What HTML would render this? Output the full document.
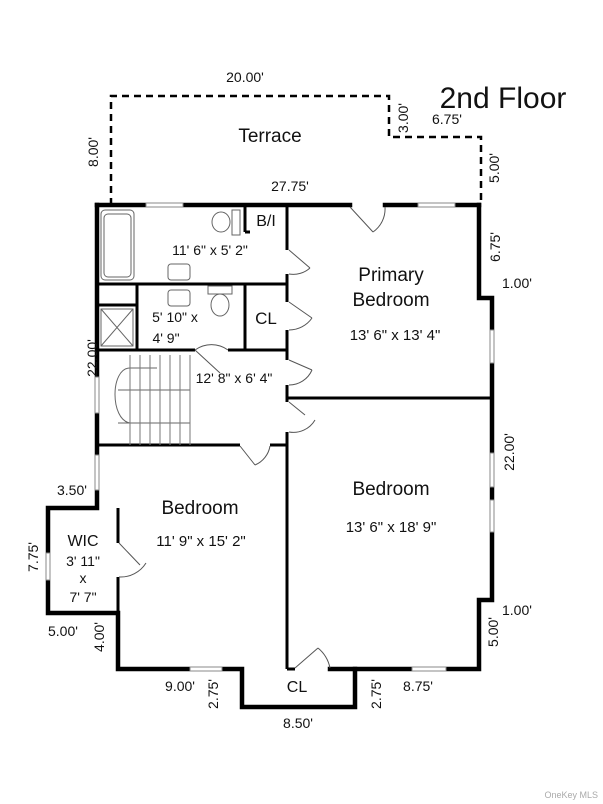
<!DOCTYPE html>
<html><head><meta charset="utf-8"><style>
body{margin:0;background:#fff}
svg{display:block}
text{font-family:"Liberation Sans",Arial,sans-serif;fill:#111}
</style></head><body>
<svg width="603" height="804" viewBox="0 0 603 804" xmlns="http://www.w3.org/2000/svg">
<rect width="603" height="804" fill="#fff"/>
<path d="M111 205 V96 H389 V137 H481 V205" fill="none" stroke="#000" stroke-width="2.5" stroke-dasharray="7,5"/>
<g stroke="#000" stroke-width="4.5" fill="none" stroke-linecap="square">
<line x1="97" y1="205" x2="146" y2="205"/>
<line x1="183" y1="205" x2="350" y2="205"/>
<line x1="385" y1="205" x2="418" y2="205"/>
<line x1="455" y1="205" x2="479" y2="205"/>
<polyline points="479,205 479,298 492,298 492,330"/>
<line x1="492" y1="363" x2="492" y2="453"/>
<line x1="492" y1="487" x2="492" y2="500"/>
<polyline points="492,532 492,600 479,600 479,669 446,669"/>
<line x1="412" y1="669" x2="355" y2="669"/>
<polyline points="330,669 355,669 355,707 242,707 242,669 222,669"/>
<polyline points="190,669 118,669 118,613 48,613 48,580"/>
<polyline points="48,553 48,508 97,508 97,490"/>
<line x1="97" y1="455" x2="97" y2="413"/>
<line x1="97" y1="377" x2="97" y2="205"/>
</g>
<g fill="#fff" stroke="#888" stroke-width="1">
<rect x="146" y="203" width="37" height="4"/>
<rect x="418" y="203" width="37" height="4"/>
<rect x="490" y="330" width="4" height="33"/>
<rect x="490" y="453" width="4" height="34"/>
<rect x="490" y="500" width="4" height="32"/>
<rect x="412" y="667" width="34" height="4"/>
<rect x="190" y="667" width="32" height="4"/>
<rect x="46" y="553" width="4" height="27"/>
<rect x="95" y="455" width="4" height="35"/>
<rect x="95" y="377" width="4" height="36"/>
</g>
<g stroke="#000" stroke-width="3" fill="none">
<line x1="287" y1="205" x2="287" y2="250"/>
<line x1="287" y1="274" x2="287" y2="302"/>
<line x1="287" y1="330" x2="287" y2="360"/>
<line x1="287" y1="385" x2="287" y2="402"/>
<line x1="287" y1="432" x2="287" y2="669"/>
<line x1="287" y1="398" x2="492" y2="398"/>
<line x1="97" y1="284" x2="287" y2="284"/>
<line x1="97" y1="350" x2="195" y2="350"/>
<line x1="228" y1="350" x2="287" y2="350"/>
<line x1="245" y1="284" x2="245" y2="350"/>
<line x1="245" y1="205" x2="245" y2="232"/>
<line x1="245" y1="232" x2="250" y2="232"/>
<line x1="137" y1="284" x2="137" y2="350"/>
<line x1="97" y1="305" x2="137" y2="305"/>
<line x1="97" y1="445" x2="240" y2="445"/>
<line x1="270" y1="445" x2="287" y2="445"/>
<line x1="287" y1="669" x2="295" y2="669"/>
<line x1="118" y1="508" x2="118" y2="543"/>
<line x1="118" y1="577" x2="118" y2="613"/>
</g>
<g stroke="#555" stroke-width="1" fill="none">
<path d="M350 207 L373 232 M385 207 A28 28 0 0 1 373 232"/>
<path d="M289 250 L310 268 M289 274 A25 25 0 0 0 310 268"/>
<path d="M289 302 L312 318 M289 330 A28 28 0 0 0 312 318"/>
<path d="M289 360 L312 370 M289 385 A25 25 0 0 0 312 370"/>
<path d="M289 402 L305 415 M289 432 A25 25 0 0 0 315 420"/>
<path d="M240 446 L255 465 M270 446 A25 25 0 0 1 255 465"/>
<path d="M119 543 L140 565 M119 577 A30 30 0 0 0 146 563"/>
<path d="M195 350 L220 373 M228 350 A28 28 0 0 0 195 350"/>
<path d="M295 668 L318 648 M330 668 A35 35 0 0 0 318 648"/>
</g>
<g stroke="#666" stroke-width="1" fill="none">
<rect x="101" y="210" width="33" height="70" rx="4"/>
<rect x="104" y="214" width="27" height="63" rx="4"/>
<rect x="168" y="264" width="22" height="16" rx="3"/>
<rect x="168" y="290" width="22" height="16" rx="3"/>
<ellipse cx="221" cy="222" rx="9" ry="10"/>
<rect x="232" y="210" width="8" height="25"/>
<rect x="208" y="286" width="24" height="8"/>
<ellipse cx="220" cy="305" rx="9" ry="11"/>
<rect x="101" y="309" width="32" height="37"/>
<path d="M101 309 L133 346 M133 309 L101 346"/>
<path d="M130 368 H157 M130 368 C110 368 110 420 130 423"/>
<path d="M118 390 H190 M118 423 H190"/>
</g>
<g stroke="#777" stroke-width="1">
<line x1="130" y1="355" x2="130" y2="445"/><line x1="140" y1="355" x2="140" y2="445"/>
<line x1="150" y1="355" x2="150" y2="445"/><line x1="160" y1="355" x2="160" y2="445"/>
<line x1="170" y1="355" x2="170" y2="445"/><line x1="180" y1="355" x2="180" y2="445"/>
<line x1="190" y1="355" x2="190" y2="445"/>
</g>
<text x="503" y="108" font-size="30" text-anchor="middle">2nd Floor</text>
<text x="245" y="82" font-size="14" text-anchor="middle">20.00'</text>
<text x="270" y="142" font-size="19" text-anchor="middle">Terrace</text>
<text x="290" y="191" font-size="14" text-anchor="middle">27.75'</text>
<text x="432" y="124" font-size="14">6.75'</text>
<text font-size="14" transform="translate(408,118) rotate(-90)" text-anchor="middle">3.00'</text>
<text font-size="14" transform="translate(98,152) rotate(-90)" text-anchor="middle">8.00'</text>
<text font-size="14" transform="translate(499,168) rotate(-90)" text-anchor="middle">5.00'</text>
<text font-size="14" transform="translate(500,247) rotate(-90)" text-anchor="middle">6.75'</text>
<text x="502" y="288" font-size="14">1.00'</text>
<text font-size="14" transform="translate(97,358) rotate(-90)" text-anchor="middle">22.00'</text>
<text font-size="14" transform="translate(514,452) rotate(-90)" text-anchor="middle">22.00'</text>
<text x="502" y="615" font-size="14">1.00'</text>
<text font-size="14" transform="translate(498,632) rotate(-90)" text-anchor="middle">5.00'</text>
<text x="57" y="495" font-size="14">3.50'</text>
<text font-size="14" transform="translate(38,557) rotate(-90)" text-anchor="middle">7.75'</text>
<text x="48" y="636" font-size="14">5.00'</text>
<text font-size="14" transform="translate(104,637) rotate(-90)" text-anchor="middle">4.00'</text>
<text x="180" y="691" font-size="14" text-anchor="middle">9.00'</text>
<text font-size="14" transform="translate(218,694) rotate(-90)" text-anchor="middle">2.75'</text>
<text font-size="14" transform="translate(381,694) rotate(-90)" text-anchor="middle">2.75'</text>
<text x="418" y="691" font-size="14" text-anchor="middle">8.75'</text>
<text x="298" y="728" font-size="14" text-anchor="middle">8.50'</text>
<text x="266" y="226" font-size="16" text-anchor="middle">B/I</text>
<text x="210" y="255" font-size="14" text-anchor="middle">11' 6" x 5' 2"</text>
<text x="175" y="322" font-size="14" text-anchor="middle">5' 10" x</text>
<text x="166" y="343" font-size="14" text-anchor="middle">4' 9"</text>
<text x="266" y="324" font-size="17" text-anchor="middle">CL</text>
<text x="234" y="383" font-size="14" text-anchor="middle">12' 8" x 6' 4"</text>
<text x="391" y="281" font-size="19" text-anchor="middle">Primary</text>
<text x="391" y="306" font-size="19" text-anchor="middle">Bedroom</text>
<text x="395" y="340" font-size="15" text-anchor="middle">13' 6" x 13' 4"</text>
<text x="391" y="495" font-size="19" text-anchor="middle">Bedroom</text>
<text x="391" y="532" font-size="15" text-anchor="middle">13' 6" x 18' 9"</text>
<text x="200" y="514" font-size="19" text-anchor="middle">Bedroom</text>
<text x="201" y="546" font-size="15" text-anchor="middle">11' 9" x 15' 2"</text>
<text x="83" y="546" font-size="16" text-anchor="middle">WIC</text>
<text x="83" y="566" font-size="14" text-anchor="middle">3' 11"</text>
<text x="83" y="583" font-size="14" text-anchor="middle">x</text>
<text x="83" y="602" font-size="14" text-anchor="middle">7' 7"</text>
<text x="297" y="692" font-size="16" text-anchor="middle">CL</text>
<text x="598" y="798" font-size="9" text-anchor="end" style="fill:#aaa">OneKey MLS</text>
</svg>
</body></html>
